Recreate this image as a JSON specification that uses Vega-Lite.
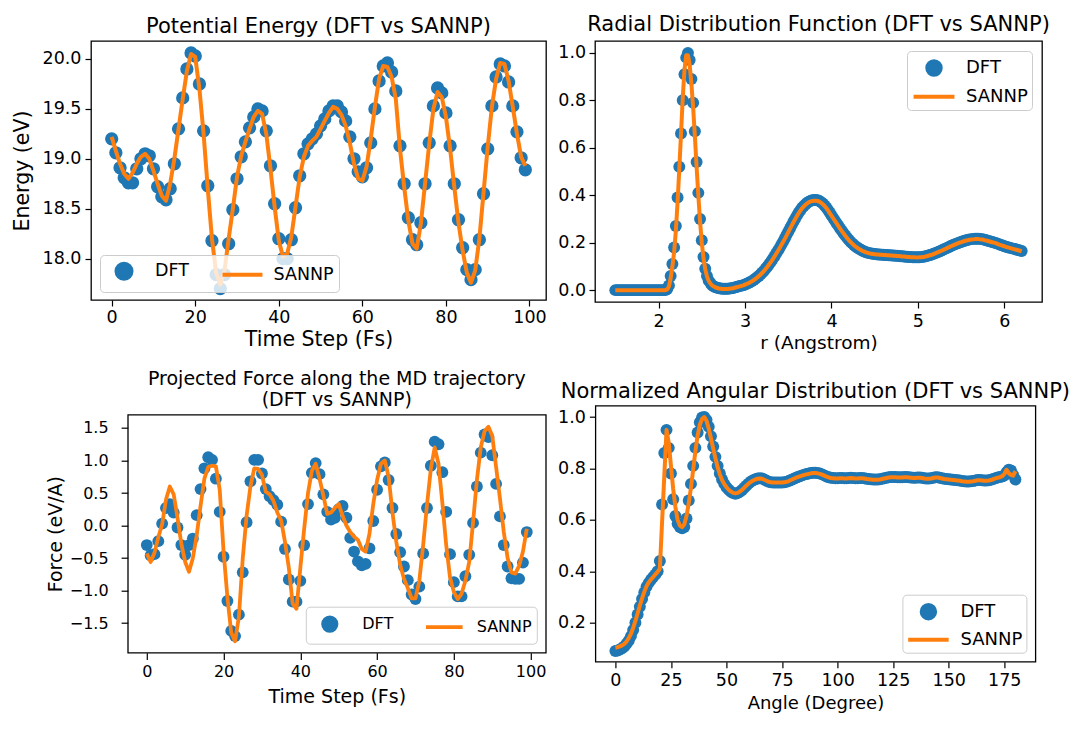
{
  "$schema": "https://vega.github.io/schema/vega-lite/v6.json",
  "background": "white",
  "padding": {"left": 11, "top": 13, "right": 5, "bottom": 5},
  "config": {
    "font": "DejaVu Sans",
    "view": {"stroke": "#000000", "strokeWidth": 1.3},
    "axis": {"domain": false, "grid": false, "ticks": true, "tickColor": "#000000", "tickWidth": 1.2, "tickSize": 6, "tickCount": 30, "labelColor": "#000000", "titleColor": "#000000", "titleFontWeight": "normal", "labelFlush": false, "labelOverlap": false},
    "title": {"fontWeight": "normal", "color": "#000000", "baseline": "bottom"},
    "legend": {"title": null, "labelColor": "#000000", "symbolStrokeWidth": 4, "symbolOpacity": 1, "fillColor": "rgba(255,255,255,0.8)", "strokeColor": "#cccccc", "cornerRadius": 4,
      "symbolStrokeColor": {"expr": "datum.value === 'DFT' ? 'transparent' : '#ff7f0e'"},
      "symbolFillColor": {"expr": "datum.value === 'DFT' ? '#1f77b4' : 'transparent'"}}
  },
  "spacing": 15.7,
  "resolve": {"scale": {"color": "independent"}, "legend": {"color": "independent"}},
  "vconcat": [
    {
      "spacing": 10,
      "resolve": {"scale": {"color": "independent"}, "legend": {"color": "independent"}},
      "hconcat": [
        {
          "width": 455, "height": 259,
          "title": {"text": "Potential Energy (DFT vs SANNP)", "fontSize": 21, "offset": 3.6},
          "data": {"name": "energy"},
          "layer": [
            {
              "mark": {"type": "circle", "size": 177, "opacity": 1, "clip": true},
              "encoding": {
                "x": {"field": "step", "type": "quantitative", "title": "Time Step (Fs)", "scale": {"domain": [-4.95, 103.95], "nice": false, "zero": false}, "axis": {"values": [0, 20, 40, 60, 80, 100], "tickCount": 30, "labelOverlap": false, "labelFontSize": 17.5, "titleFontSize": 20.5, "labelPadding": 2.2, "titlePadding": 4}},
                "y": {"field": "DFT", "type": "quantitative", "title": "Energy (eV)", "scale": {"domain": [17.586, 20.18], "nice": false, "zero": false}, "axis": {"values": [18, 18.5, 19, 19.5, 20], "tickCount": 30, "labelOverlap": false, "format": ".1f", "labelFontSize": 17.5, "titleFontSize": 20.5, "labelPadding": 4, "titlePadding": 9.7}},
                "color": {"datum": "DFT", "type": "nominal", "scale": {"domain": ["DFT", "SANNP"], "range": ["#1f77b4", "#ff7f0e"]},
                  "legend": {"orient": "bottom-left", "offset": 8.5, "columns": 2, "padding": 5, "symbolSize": 324, "symbolOffset": 8, "labelOffset": 20, "columnPadding": 25.5, "labelFontSize": 17.5,
                    "symbolType": {"expr": "datum.value === 'DFT' ? 'M-0.833,0A0.833,0.833,0,1,0,0.833,0A0.833,0.833,0,1,0,-0.833,0Z' : 'M-2.22,0H2.22'"}}}
              }
            },
            {
              "mark": {"type": "line", "strokeWidth": 4, "strokeJoin": "round", "clip": true},
              "encoding": {
                "x": {"field": "step", "type": "quantitative", "title": "Time Step (Fs)"},
                "y": {"field": "SANNP", "type": "quantitative", "title": "Energy (eV)"},
                "color": {"datum": "SANNP", "type": "nominal"}
              }
            }
          ]
        },
        {
          "width": 447, "height": 261,
          "title": {"text": "Radial Distribution Function (DFT vs SANNP)", "fontSize": 21, "offset": 6.3},
          "data": {"name": "rdf"},
          "layer": [
            {
              "mark": {"type": "circle", "size": 143, "opacity": 1, "clip": true},
              "encoding": {
                "x": {"field": "r", "type": "quantitative", "title": "r (Angstrom)", "scale": {"domain": [1.265, 6.435], "nice": false, "zero": false}, "axis": {"values": [2, 3, 4, 5, 6], "tickCount": 30, "labelOverlap": false, "format": "d", "labelFontSize": 17.5, "titleFontSize": 18.5, "labelPadding": 4.3, "titlePadding": 3.6}},
                "y": {"field": "DFT", "type": "quantitative", "title": null, "scale": {"domain": [-0.05, 1.05], "nice": false, "zero": false}, "axis": {"values": [0, 0.2, 0.4, 0.6, 0.8, 1.0], "tickCount": 30, "labelOverlap": false, "format": ".1f", "labelFontSize": 17.5, "labelPadding": 3.4}},
                "color": {"datum": "DFT", "type": "nominal", "scale": {"domain": ["DFT", "SANNP"], "range": ["#1f77b4", "#ff7f0e"]},
                  "legend": {"orient": "top-right", "offset": 10.4, "padding": 4, "symbolSize": 484, "symbolOffset": 10, "labelOffset": 19, "rowPadding": 0.7, "labelFontSize": 18,
                    "symbolType": {"expr": "datum.value === 'DFT' ? 'M-0.61,0A0.61,0.61,0,1,0,0.61,0A0.61,0.61,0,1,0,-0.61,0Z' : 'M-1.86,0H1.86'"}}}
              }
            },
            {
              "mark": {"type": "line", "strokeWidth": 4, "strokeJoin": "round", "clip": true},
              "encoding": {
                "x": {"field": "r", "type": "quantitative", "title": "r (Angstrom)"},
                "y": {"field": "SANNP", "type": "quantitative", "title": null},
                "color": {"datum": "SANNP", "type": "nominal"}
              }
            }
          ]
        }
      ]
    },
    {
      "spacing": 35.8,
      "bounds": "flush",
      "resolve": {"scale": {"color": "independent"}, "legend": {"color": "independent"}},
      "hconcat": [
        {
          "width": 1, "height": 1,
          "view": {"stroke": null},
          "data": {"values": []},
          "mark": "point",
          "encoding": {}
        },
        {
          "spacing": 49.6,
          "bounds": "flush",
          "center": true,
          "resolve": {"scale": {"color": "independent"}, "legend": {"color": "independent"}},
          "hconcat": [
            {
              "width": 418, "height": 238,
              "title": {"text": ["Projected Force along the MD trajectory", "(DFT vs SANNP)"], "fontSize": 19, "lineHeight": 21, "offset": 4.4},
              "data": {"name": "force"},
              "layer": [
                {
                  "mark": {"type": "circle", "size": 140, "opacity": 1, "clip": true},
                  "encoding": {
                    "x": {"field": "step", "type": "quantitative", "title": "Time Step (Fs)", "scale": {"domain": [-4.95, 103.95], "nice": false, "zero": false}, "axis": {"values": [0, 20, 40, 60, 80, 100], "tickCount": 30, "labelOverlap": false, "labelFontSize": 16, "titleFontSize": 19, "tickSize": 6.7, "labelPadding": 3.6, "titlePadding": 8.9}},
                    "y": {"field": "DFT", "type": "quantitative", "title": "Force (eV/A)", "scale": {"domain": [-1.955, 1.704], "nice": false, "zero": false}, "axis": {"values": [-1.5, -1, -0.5, 0, 0.5, 1, 1.5], "tickCount": 30, "labelOverlap": false, "format": ".1f", "labelFontSize": 16, "titleFontSize": 19, "tickSize": 6.7, "labelPadding": 13, "titlePadding": 3.9}},
                    "color": {"datum": "DFT", "type": "nominal", "scale": {"domain": ["DFT", "SANNP"], "range": ["#1f77b4", "#ff7f0e"]},
                      "legend": {"orient": "bottom-right", "offset": 8.6, "columns": 2, "padding": 5, "symbolSize": 376, "symbolOffset": 7, "labelOffset": 20.4, "columnPadding": 24.5, "labelFontSize": 16, "symbolStrokeWidth": 3.8,
                        "symbolType": {"expr": "datum.value === 'DFT' ? 'M-0.69,0A0.69,0.69,0,1,0,0.69,0A0.69,0.69,0,1,0,-0.69,0Z' : 'M-1.89,0H1.89'"}}}
                  }
                },
                {
                  "mark": {"type": "line", "strokeWidth": 3.8, "strokeJoin": "round", "clip": true},
                  "encoding": {
                    "x": {"field": "step", "type": "quantitative", "title": "Time Step (Fs)"},
                    "y": {"field": "SANNP", "type": "quantitative", "title": "Force (eV/A)"},
                    "color": {"datum": "SANNP", "type": "nominal"}
                  }
                }
              ]
            },
            {
              "width": 440, "height": 256,
              "title": {"text": "Normalized Angular Distribution (DFT vs SANNP)", "fontSize": 21, "offset": 3.3},
              "data": {"name": "angle"},
              "layer": [
                {
                  "mark": {"type": "circle", "size": 143, "opacity": 1, "clip": true},
                  "encoding": {
                    "x": {"field": "angle", "type": "quantitative", "title": "Angle (Degree)", "scale": {"domain": [-9, 189], "nice": false, "zero": false}, "axis": {"values": [0, 25, 50, 75, 100, 125, 150, 175], "tickCount": 30, "labelOverlap": false, "labelFontSize": 17.5, "titleFontSize": 18, "labelPadding": 3.3, "titlePadding": 5.9}},
                    "y": {"field": "DFT", "type": "quantitative", "title": null, "scale": {"domain": [0.0485, 1.044], "nice": false, "zero": false}, "axis": {"values": [0.2, 0.4, 0.6, 0.8, 1.0], "tickCount": 30, "labelOverlap": false, "format": ".1f", "labelFontSize": 17.5, "labelPadding": 4}},
                    "color": {"datum": "DFT", "type": "nominal", "scale": {"domain": ["DFT", "SANNP"], "range": ["#1f77b4", "#ff7f0e"]},
                      "legend": {"orient": "bottom-right", "offset": 9.3, "padding": 4, "symbolSize": 484, "symbolOffset": 9, "labelOffset": 19, "rowPadding": 0, "labelFontSize": 18,
                        "symbolType": {"expr": "datum.value === 'DFT' ? 'M-0.61,0A0.61,0.61,0,1,0,0.61,0A0.61,0.61,0,1,0,-0.61,0Z' : 'M-1.84,0H1.84'"}}}
                  }
                },
                {
                  "mark": {"type": "line", "strokeWidth": 4, "strokeJoin": "round", "clip": true},
                  "encoding": {
                    "x": {"field": "angle", "type": "quantitative", "title": "Angle (Degree)"},
                    "y": {"field": "SANNP", "type": "quantitative", "title": null},
                    "color": {"datum": "SANNP", "type": "nominal"}
                  }
                }
              ]
            }
          ]
        }
      ]
    }
  ],
  "datasets": {
    "energy": [
      {"step":0,"DFT":19.20,"SANNP":19.22},{"step":1,"DFT":19.06,"SANNP":19.08},{"step":2,"DFT":18.91,"SANNP":18.95},{"step":3,"DFT":18.81,"SANNP":18.85},{"step":4,"DFT":18.76,"SANNP":18.80},
      {"step":5,"DFT":18.76,"SANNP":18.86},{"step":6,"DFT":18.90,"SANNP":18.95},{"step":7,"DFT":19.00,"SANNP":19.02},{"step":8,"DFT":19.05,"SANNP":19.05},{"step":9,"DFT":19.03,"SANNP":19.00},
      {"step":10,"DFT":18.90,"SANNP":18.88},{"step":11,"DFT":18.72,"SANNP":18.75},{"step":12,"DFT":18.62,"SANNP":18.63},{"step":13,"DFT":18.59,"SANNP":18.58},{"step":14,"DFT":18.70,"SANNP":18.75},
      {"step":15,"DFT":18.95,"SANNP":19.00},{"step":16,"DFT":19.30,"SANNP":19.30},{"step":17,"DFT":19.61,"SANNP":19.60},{"step":18,"DFT":19.90,"SANNP":19.88},{"step":19,"DFT":20.06,"SANNP":20.05},
      {"step":20,"DFT":20.03,"SANNP":20.02},{"step":21,"DFT":19.75,"SANNP":19.70},{"step":22,"DFT":19.28,"SANNP":19.25},{"step":23,"DFT":18.73,"SANNP":18.70},{"step":24,"DFT":18.18,"SANNP":18.20},
      {"step":25,"DFT":17.84,"SANNP":17.86},{"step":26,"DFT":17.70,"SANNP":17.74},{"step":27,"DFT":17.84,"SANNP":17.88},{"step":28,"DFT":18.15,"SANNP":18.20},{"step":29,"DFT":18.49,"SANNP":18.50},
      {"step":30,"DFT":18.80,"SANNP":18.82},{"step":31,"DFT":19.02,"SANNP":19.03},{"step":32,"DFT":19.17,"SANNP":19.17},{"step":33,"DFT":19.31,"SANNP":19.30},{"step":34,"DFT":19.42,"SANNP":19.42},
      {"step":35,"DFT":19.50,"SANNP":19.48},{"step":36,"DFT":19.48,"SANNP":19.45},{"step":37,"DFT":19.28,"SANNP":19.25},{"step":38,"DFT":18.93,"SANNP":18.90},{"step":39,"DFT":18.55,"SANNP":18.52},
      {"step":40,"DFT":18.20,"SANNP":18.18},{"step":41,"DFT":18.00,"SANNP":18.02},{"step":42,"DFT":18.00,"SANNP":18.05},{"step":43,"DFT":18.19,"SANNP":18.22},{"step":44,"DFT":18.51,"SANNP":18.52},
      {"step":45,"DFT":18.83,"SANNP":18.82},{"step":46,"DFT":19.05,"SANNP":19.02},{"step":47,"DFT":19.15,"SANNP":19.13},{"step":48,"DFT":19.20,"SANNP":19.18},{"step":49,"DFT":19.25,"SANNP":19.22},
      {"step":50,"DFT":19.33,"SANNP":19.30},{"step":51,"DFT":19.40,"SANNP":19.38},{"step":52,"DFT":19.48,"SANNP":19.46},{"step":53,"DFT":19.53,"SANNP":19.52},{"step":54,"DFT":19.53,"SANNP":19.50},
      {"step":55,"DFT":19.47,"SANNP":19.44},{"step":56,"DFT":19.38,"SANNP":19.33},{"step":57,"DFT":19.22,"SANNP":19.16},{"step":58,"DFT":19.00,"SANNP":18.95},{"step":59,"DFT":18.87,"SANNP":18.80},
      {"step":60,"DFT":18.82,"SANNP":18.78},{"step":61,"DFT":18.91,"SANNP":18.92},{"step":62,"DFT":19.16,"SANNP":19.20},{"step":63,"DFT":19.50,"SANNP":19.52},{"step":64,"DFT":19.78,"SANNP":19.80},
      {"step":65,"DFT":19.93,"SANNP":19.93},{"step":66,"DFT":19.96,"SANNP":19.92},{"step":67,"DFT":19.87,"SANNP":19.82},{"step":68,"DFT":19.68,"SANNP":19.60},{"step":69,"DFT":19.13,"SANNP":19.10},
      {"step":70,"DFT":18.75,"SANNP":18.72},{"step":71,"DFT":18.41,"SANNP":18.38},{"step":72,"DFT":18.19,"SANNP":18.15},{"step":73,"DFT":18.14,"SANNP":18.10},{"step":74,"DFT":18.36,"SANNP":18.35},
      {"step":75,"DFT":18.75,"SANNP":18.75},{"step":76,"DFT":19.16,"SANNP":19.15},{"step":77,"DFT":19.53,"SANNP":19.50},{"step":78,"DFT":19.71,"SANNP":19.67},{"step":79,"DFT":19.66,"SANNP":19.62},
      {"step":80,"DFT":19.46,"SANNP":19.42},{"step":81,"DFT":19.13,"SANNP":19.10},{"step":82,"DFT":18.75,"SANNP":18.72},{"step":83,"DFT":18.39,"SANNP":18.36},{"step":84,"DFT":18.11,"SANNP":18.08},
      {"step":85,"DFT":17.89,"SANNP":17.86},{"step":86,"DFT":17.79,"SANNP":17.76},{"step":87,"DFT":17.89,"SANNP":17.88},{"step":88,"DFT":18.19,"SANNP":18.20},{"step":89,"DFT":18.65,"SANNP":18.66},
      {"step":90,"DFT":19.10,"SANNP":19.12},{"step":91,"DFT":19.53,"SANNP":19.52},{"step":92,"DFT":19.82,"SANNP":19.80},{"step":93,"DFT":19.95,"SANNP":19.96},{"step":94,"DFT":19.93,"SANNP":19.95},
      {"step":95,"DFT":19.77,"SANNP":19.78},{"step":96,"DFT":19.53,"SANNP":19.52},{"step":97,"DFT":19.27,"SANNP":19.25},{"step":98,"DFT":19.01,"SANNP":19.02},{"step":99,"DFT":18.89,"SANNP":18.93}
    ],
    "force": [
      {"step":0,"DFT":-0.30,"SANNP":-0.43},{"step":1,"DFT":-0.46,"SANNP":-0.56},{"step":2,"DFT":-0.44,"SANNP":-0.42},{"step":3,"DFT":-0.24,"SANNP":-0.18},{"step":4,"DFT":0.03,"SANNP":0.02},
      {"step":5,"DFT":0.27,"SANNP":0.40},{"step":6,"DFT":0.33,"SANNP":0.60},{"step":7,"DFT":0.20,"SANNP":0.48},{"step":8,"DFT":-0.03,"SANNP":0.12},{"step":9,"DFT":-0.30,"SANNP":-0.28},
      {"step":10,"DFT":-0.45,"SANNP":-0.56},{"step":11,"DFT":-0.30,"SANNP":-0.71},{"step":12,"DFT":-0.20,"SANNP":-0.50},{"step":13,"DFT":0.16,"SANNP":-0.15},{"step":14,"DFT":0.56,"SANNP":0.30},
      {"step":15,"DFT":0.88,"SANNP":0.72},{"step":16,"DFT":1.05,"SANNP":0.90},{"step":17,"DFT":1.01,"SANNP":0.92},{"step":18,"DFT":0.72,"SANNP":0.91},{"step":19,"DFT":0.21,"SANNP":0.55},
      {"step":20,"DFT":-0.48,"SANNP":-0.40},{"step":21,"DFT":-1.16,"SANNP":-1.10},{"step":22,"DFT":-1.62,"SANNP":-1.65},{"step":23,"DFT":-1.70,"SANNP":-1.78},{"step":24,"DFT":-1.37,"SANNP":-1.40},
      {"step":25,"DFT":-0.72,"SANNP":-0.50},{"step":26,"DFT":0.05,"SANNP":0.15},{"step":27,"DFT":0.68,"SANNP":0.60},{"step":28,"DFT":1.01,"SANNP":0.88},{"step":29,"DFT":1.01,"SANNP":0.87},
      {"step":30,"DFT":0.80,"SANNP":0.78},{"step":31,"DFT":0.56,"SANNP":0.52},{"step":32,"DFT":0.45,"SANNP":0.48},{"step":33,"DFT":0.39,"SANNP":0.38},{"step":34,"DFT":0.32,"SANNP":0.20},
      {"step":35,"DFT":0.06,"SANNP":0.08},{"step":36,"DFT":-0.36,"SANNP":-0.25},{"step":37,"DFT":-0.83,"SANNP":-0.65},{"step":38,"DFT":-1.17,"SANNP":-1.20},{"step":39,"DFT":-1.17,"SANNP":-1.28},
      {"step":40,"DFT":-0.85,"SANNP":-0.65},{"step":41,"DFT":-0.30,"SANNP":-0.05},{"step":42,"DFT":0.33,"SANNP":0.50},{"step":43,"DFT":0.81,"SANNP":0.84},{"step":44,"DFT":0.96,"SANNP":0.95},
      {"step":45,"DFT":0.79,"SANNP":0.72},{"step":46,"DFT":0.48,"SANNP":0.46},{"step":47,"DFT":0.21,"SANNP":0.18},{"step":48,"DFT":0.09,"SANNP":0.20},{"step":49,"DFT":0.12,"SANNP":0.27},
      {"step":50,"DFT":0.25,"SANNP":0.33},{"step":51,"DFT":0.30,"SANNP":0.15},{"step":52,"DFT":0.12,"SANNP":0.00},{"step":53,"DFT":-0.19,"SANNP":-0.10},{"step":54,"DFT":-0.40,"SANNP":-0.17},
      {"step":55,"DFT":-0.55,"SANNP":-0.22},{"step":56,"DFT":-0.61,"SANNP":-0.36},{"step":57,"DFT":-0.59,"SANNP":-0.40},{"step":58,"DFT":-0.35,"SANNP":-0.13},{"step":59,"DFT":0.07,"SANNP":0.33},
      {"step":60,"DFT":0.55,"SANNP":0.70},{"step":61,"DFT":0.91,"SANNP":0.95},{"step":62,"DFT":0.97,"SANNP":1.00},{"step":63,"DFT":0.70,"SANNP":0.75},{"step":64,"DFT":0.27,"SANNP":0.20},
      {"step":65,"DFT":-0.13,"SANNP":-0.25},{"step":66,"DFT":-0.41,"SANNP":-0.60},{"step":67,"DFT":-0.63,"SANNP":-0.82},{"step":68,"DFT":-0.84,"SANNP":-0.96},{"step":69,"DFT":-1.06,"SANNP":-1.12},
      {"step":70,"DFT":-1.13,"SANNP":-1.12},{"step":71,"DFT":-0.94,"SANNP":-0.85},{"step":72,"DFT":-0.43,"SANNP":-0.30},{"step":73,"DFT":0.27,"SANNP":0.32},{"step":74,"DFT":0.92,"SANNP":0.87},
      {"step":75,"DFT":1.29,"SANNP":1.20},{"step":76,"DFT":1.25,"SANNP":0.95},{"step":77,"DFT":0.82,"SANNP":0.35},{"step":78,"DFT":0.21,"SANNP":-0.30},{"step":79,"DFT":-0.44,"SANNP":-0.80},
      {"step":80,"DFT":-0.87,"SANNP":-1.02},{"step":81,"DFT":-1.09,"SANNP":-1.13},{"step":82,"DFT":-1.09,"SANNP":-1.05},{"step":83,"DFT":-0.78,"SANNP":-0.85},{"step":84,"DFT":-0.45,"SANNP":-0.56},
      {"step":85,"DFT":0.04,"SANNP":0.05},{"step":86,"DFT":0.60,"SANNP":0.70},{"step":87,"DFT":1.12,"SANNP":1.20},{"step":88,"DFT":1.40,"SANNP":1.45},{"step":89,"DFT":1.36,"SANNP":1.52},
      {"step":90,"DFT":1.08,"SANNP":1.38},{"step":91,"DFT":0.64,"SANNP":0.90},{"step":92,"DFT":0.14,"SANNP":0.42},{"step":93,"DFT":-0.30,"SANNP":-0.10},{"step":94,"DFT":-0.63,"SANNP":-0.50},
      {"step":95,"DFT":-0.81,"SANNP":-0.72},{"step":96,"DFT":-0.82,"SANNP":-0.74},{"step":97,"DFT":-0.82,"SANNP":-0.62},{"step":98,"DFT":-0.57,"SANNP":-0.40},{"step":99,"DFT":-0.10,"SANNP":-0.05}
    ],
    "rdf": [
      {"r":1.50,"DFT":0,"SANNP":0},{"r":1.52,"DFT":0,"SANNP":0},{"r":1.54,"DFT":0,"SANNP":0},{"r":1.56,"DFT":0,"SANNP":0},{"r":1.58,"DFT":0,"SANNP":0},
      {"r":1.60,"DFT":0,"SANNP":0},{"r":1.62,"DFT":0,"SANNP":0},{"r":1.64,"DFT":0,"SANNP":0},{"r":1.66,"DFT":0,"SANNP":0},{"r":1.68,"DFT":0,"SANNP":0},
      {"r":1.70,"DFT":0,"SANNP":0},{"r":1.72,"DFT":0,"SANNP":0},{"r":1.74,"DFT":0,"SANNP":0},{"r":1.76,"DFT":0,"SANNP":0},{"r":1.78,"DFT":0,"SANNP":0},
      {"r":1.80,"DFT":0,"SANNP":0},{"r":1.82,"DFT":0,"SANNP":0},{"r":1.84,"DFT":0,"SANNP":0},{"r":1.86,"DFT":0,"SANNP":0},{"r":1.88,"DFT":0,"SANNP":0},
      {"r":1.90,"DFT":0,"SANNP":0},{"r":1.92,"DFT":0,"SANNP":0},{"r":1.94,"DFT":0,"SANNP":0},{"r":1.96,"DFT":0,"SANNP":0},{"r":1.98,"DFT":0,"SANNP":0},
      {"r":2.00,"DFT":0,"SANNP":0},{"r":2.02,"DFT":0,"SANNP":0},{"r":2.04,"DFT":0,"SANNP":0},{"r":2.06,"DFT":0,"SANNP":0},{"r":2.08,"DFT":0.001,"SANNP":0},
      {"r":2.10,"DFT":0.005,"SANNP":0.003},{"r":2.12,"DFT":0.02,"SANNP":0.015},{"r":2.14,"DFT":0.06,"SANNP":0.05},{"r":2.16,"DFT":0.11,"SANNP":0.10},{"r":2.18,"DFT":0.18,"SANNP":0.16},
      {"r":2.20,"DFT":0.27,"SANNP":0.25},{"r":2.22,"DFT":0.39,"SANNP":0.37},{"r":2.24,"DFT":0.52,"SANNP":0.51},{"r":2.26,"DFT":0.66,"SANNP":0.66},{"r":2.28,"DFT":0.80,"SANNP":0.81},
      {"r":2.30,"DFT":0.91,"SANNP":0.93},{"r":2.32,"DFT":0.98,"SANNP":0.99},{"r":2.34,"DFT":1.00,"SANNP":0.99},{"r":2.36,"DFT":0.97,"SANNP":0.95},{"r":2.38,"DFT":0.89,"SANNP":0.87},
      {"r":2.40,"DFT":0.79,"SANNP":0.77},{"r":2.42,"DFT":0.67,"SANNP":0.65},{"r":2.44,"DFT":0.54,"SANNP":0.52},{"r":2.46,"DFT":0.41,"SANNP":0.40},{"r":2.48,"DFT":0.30,"SANNP":0.29},
      {"r":2.50,"DFT":0.21,"SANNP":0.20},{"r":2.52,"DFT":0.14,"SANNP":0.135},{"r":2.54,"DFT":0.09,"SANNP":0.088},{"r":2.56,"DFT":0.06,"SANNP":0.058},{"r":2.58,"DFT":0.04,"SANNP":0.039},
      {"r":2.60,"DFT":0.03,"SANNP":0.028},{"r":2.62,"DFT":0.02,"SANNP":0.02},{"r":2.64,"DFT":0.015,"SANNP":0.015},{"r":2.66,"DFT":0.012,"SANNP":0.011},{"r":2.68,"DFT":0.01,"SANNP":0.009},
      {"r":2.70,"DFT":0.008,"SANNP":0.007},{"r":2.72,"DFT":0.007,"SANNP":0.006},{"r":2.74,"DFT":0.006,"SANNP":0.005},{"r":2.76,"DFT":0.006,"SANNP":0.005},{"r":2.78,"DFT":0.006,"SANNP":0.005},
      {"r":2.80,"DFT":0.006,"SANNP":0.005},{"r":2.82,"DFT":0.007,"SANNP":0.006},{"r":2.84,"DFT":0.008,"SANNP":0.007},{"r":2.86,"DFT":0.009,"SANNP":0.008},{"r":2.88,"DFT":0.011,"SANNP":0.010},
      {"r":2.90,"DFT":0.013,"SANNP":0.012},{"r":2.92,"DFT":0.015,"SANNP":0.014},{"r":2.94,"DFT":0.017,"SANNP":0.016},{"r":2.96,"DFT":0.019,"SANNP":0.018},{"r":2.98,"DFT":0.021,"SANNP":0.020},
      {"r":3.00,"DFT":0.024,"SANNP":0.023},{"r":3.02,"DFT":0.027,"SANNP":0.026},{"r":3.04,"DFT":0.030,"SANNP":0.029},{"r":3.06,"DFT":0.034,"SANNP":0.033},{"r":3.08,"DFT":0.038,"SANNP":0.037},
      {"r":3.10,"DFT":0.043,"SANNP":0.042},{"r":3.12,"DFT":0.048,"SANNP":0.047},{"r":3.14,"DFT":0.054,"SANNP":0.053},{"r":3.16,"DFT":0.060,"SANNP":0.059},{"r":3.18,"DFT":0.067,"SANNP":0.066},
      {"r":3.20,"DFT":0.074,"SANNP":0.073},{"r":3.22,"DFT":0.082,"SANNP":0.081},{"r":3.24,"DFT":0.091,"SANNP":0.090},{"r":3.26,"DFT":0.100,"SANNP":0.099},{"r":3.28,"DFT":0.110,"SANNP":0.109},
      {"r":3.30,"DFT":0.120,"SANNP":0.119},{"r":3.32,"DFT":0.131,"SANNP":0.130},{"r":3.34,"DFT":0.142,"SANNP":0.141},{"r":3.36,"DFT":0.154,"SANNP":0.153},{"r":3.38,"DFT":0.166,"SANNP":0.165},
      {"r":3.40,"DFT":0.178,"SANNP":0.177},{"r":3.42,"DFT":0.191,"SANNP":0.190},{"r":3.44,"DFT":0.204,"SANNP":0.203},{"r":3.46,"DFT":0.218,"SANNP":0.216},{"r":3.48,"DFT":0.232,"SANNP":0.230},
      {"r":3.50,"DFT":0.246,"SANNP":0.244},{"r":3.52,"DFT":0.260,"SANNP":0.258},{"r":3.54,"DFT":0.274,"SANNP":0.272},{"r":3.56,"DFT":0.288,"SANNP":0.286},{"r":3.58,"DFT":0.301,"SANNP":0.299},
      {"r":3.60,"DFT":0.314,"SANNP":0.312},{"r":3.62,"DFT":0.326,"SANNP":0.324},{"r":3.64,"DFT":0.337,"SANNP":0.335},{"r":3.66,"DFT":0.347,"SANNP":0.345},{"r":3.68,"DFT":0.355,"SANNP":0.353},
      {"r":3.70,"DFT":0.362,"SANNP":0.360},{"r":3.72,"DFT":0.368,"SANNP":0.366},{"r":3.74,"DFT":0.373,"SANNP":0.371},{"r":3.76,"DFT":0.377,"SANNP":0.374},{"r":3.78,"DFT":0.379,"SANNP":0.376},
      {"r":3.80,"DFT":0.380,"SANNP":0.377},{"r":3.82,"DFT":0.380,"SANNP":0.377},{"r":3.84,"DFT":0.379,"SANNP":0.376},{"r":3.86,"DFT":0.376,"SANNP":0.373},{"r":3.88,"DFT":0.371,"SANNP":0.368},
      {"r":3.90,"DFT":0.365,"SANNP":0.362},{"r":3.92,"DFT":0.357,"SANNP":0.355},{"r":3.94,"DFT":0.348,"SANNP":0.346},{"r":3.96,"DFT":0.338,"SANNP":0.336},{"r":3.98,"DFT":0.327,"SANNP":0.325},
      {"r":4.00,"DFT":0.315,"SANNP":0.314},{"r":4.02,"DFT":0.304,"SANNP":0.303},{"r":4.04,"DFT":0.293,"SANNP":0.292},{"r":4.06,"DFT":0.282,"SANNP":0.281},{"r":4.08,"DFT":0.271,"SANNP":0.270},
      {"r":4.10,"DFT":0.260,"SANNP":0.259},{"r":4.12,"DFT":0.250,"SANNP":0.249},{"r":4.14,"DFT":0.240,"SANNP":0.239},{"r":4.16,"DFT":0.230,"SANNP":0.229},{"r":4.18,"DFT":0.221,"SANNP":0.220},
      {"r":4.20,"DFT":0.212,"SANNP":0.211},{"r":4.22,"DFT":0.204,"SANNP":0.203},{"r":4.24,"DFT":0.197,"SANNP":0.196},{"r":4.26,"DFT":0.190,"SANNP":0.189},{"r":4.28,"DFT":0.184,"SANNP":0.183},
      {"r":4.30,"DFT":0.179,"SANNP":0.178},{"r":4.32,"DFT":0.174,"SANNP":0.173},{"r":4.34,"DFT":0.170,"SANNP":0.169},{"r":4.36,"DFT":0.166,"SANNP":0.165},{"r":4.38,"DFT":0.163,"SANNP":0.162},
      {"r":4.40,"DFT":0.160,"SANNP":0.159},{"r":4.42,"DFT":0.158,"SANNP":0.157},{"r":4.44,"DFT":0.156,"SANNP":0.155},{"r":4.46,"DFT":0.154,"SANNP":0.153},{"r":4.48,"DFT":0.153,"SANNP":0.152},
      {"r":4.50,"DFT":0.152,"SANNP":0.151},{"r":4.52,"DFT":0.151,"SANNP":0.150},{"r":4.54,"DFT":0.150,"SANNP":0.150},{"r":4.56,"DFT":0.150,"SANNP":0.149},{"r":4.58,"DFT":0.149,"SANNP":0.149},
      {"r":4.60,"DFT":0.149,"SANNP":0.148},{"r":4.62,"DFT":0.148,"SANNP":0.148},{"r":4.64,"DFT":0.148,"SANNP":0.147},{"r":4.66,"DFT":0.147,"SANNP":0.147},{"r":4.68,"DFT":0.147,"SANNP":0.146},
      {"r":4.70,"DFT":0.146,"SANNP":0.146},{"r":4.72,"DFT":0.146,"SANNP":0.145},{"r":4.74,"DFT":0.145,"SANNP":0.145},{"r":4.76,"DFT":0.145,"SANNP":0.144},{"r":4.78,"DFT":0.144,"SANNP":0.144},
      {"r":4.80,"DFT":0.143,"SANNP":0.143},{"r":4.82,"DFT":0.143,"SANNP":0.142},{"r":4.84,"DFT":0.142,"SANNP":0.142},{"r":4.86,"DFT":0.141,"SANNP":0.141},{"r":4.88,"DFT":0.141,"SANNP":0.140},
      {"r":4.90,"DFT":0.140,"SANNP":0.140},{"r":4.92,"DFT":0.140,"SANNP":0.139},{"r":4.94,"DFT":0.139,"SANNP":0.139},{"r":4.96,"DFT":0.139,"SANNP":0.139},{"r":4.98,"DFT":0.139,"SANNP":0.138},
      {"r":5.00,"DFT":0.139,"SANNP":0.138},{"r":5.02,"DFT":0.139,"SANNP":0.139},{"r":5.04,"DFT":0.140,"SANNP":0.139},{"r":5.06,"DFT":0.141,"SANNP":0.140},{"r":5.08,"DFT":0.142,"SANNP":0.141},
      {"r":5.10,"DFT":0.144,"SANNP":0.143},{"r":5.12,"DFT":0.146,"SANNP":0.145},{"r":5.14,"DFT":0.148,"SANNP":0.147},{"r":5.16,"DFT":0.150,"SANNP":0.149},{"r":5.18,"DFT":0.153,"SANNP":0.152},
      {"r":5.20,"DFT":0.156,"SANNP":0.155},{"r":5.22,"DFT":0.159,"SANNP":0.158},{"r":5.24,"DFT":0.162,"SANNP":0.161},{"r":5.26,"DFT":0.165,"SANNP":0.164},{"r":5.28,"DFT":0.168,"SANNP":0.167},
      {"r":5.30,"DFT":0.172,"SANNP":0.171},{"r":5.32,"DFT":0.175,"SANNP":0.174},{"r":5.34,"DFT":0.179,"SANNP":0.178},{"r":5.36,"DFT":0.182,"SANNP":0.181},{"r":5.38,"DFT":0.186,"SANNP":0.185},
      {"r":5.40,"DFT":0.189,"SANNP":0.188},{"r":5.42,"DFT":0.192,"SANNP":0.191},{"r":5.44,"DFT":0.195,"SANNP":0.194},{"r":5.46,"DFT":0.198,"SANNP":0.197},{"r":5.48,"DFT":0.201,"SANNP":0.200},
      {"r":5.50,"DFT":0.203,"SANNP":0.202},{"r":5.52,"DFT":0.206,"SANNP":0.205},{"r":5.54,"DFT":0.208,"SANNP":0.207},{"r":5.56,"DFT":0.210,"SANNP":0.209},{"r":5.58,"DFT":0.212,"SANNP":0.211},
      {"r":5.60,"DFT":0.214,"SANNP":0.212},{"r":5.62,"DFT":0.215,"SANNP":0.213},{"r":5.64,"DFT":0.216,"SANNP":0.214},{"r":5.66,"DFT":0.217,"SANNP":0.215},{"r":5.68,"DFT":0.217,"SANNP":0.215},
      {"r":5.70,"DFT":0.217,"SANNP":0.215},{"r":5.72,"DFT":0.216,"SANNP":0.214},{"r":5.74,"DFT":0.215,"SANNP":0.213},{"r":5.76,"DFT":0.213,"SANNP":0.212},{"r":5.78,"DFT":0.211,"SANNP":0.210},
      {"r":5.80,"DFT":0.209,"SANNP":0.208},{"r":5.82,"DFT":0.207,"SANNP":0.206},{"r":5.84,"DFT":0.205,"SANNP":0.204},{"r":5.86,"DFT":0.203,"SANNP":0.202},{"r":5.88,"DFT":0.201,"SANNP":0.200},
      {"r":5.90,"DFT":0.199,"SANNP":0.198},{"r":5.92,"DFT":0.196,"SANNP":0.195},{"r":5.94,"DFT":0.193,"SANNP":0.192},{"r":5.96,"DFT":0.190,"SANNP":0.190},{"r":5.98,"DFT":0.188,"SANNP":0.187},
      {"r":6.00,"DFT":0.185,"SANNP":0.185},{"r":6.02,"DFT":0.183,"SANNP":0.182},{"r":6.04,"DFT":0.181,"SANNP":0.180},{"r":6.06,"DFT":0.179,"SANNP":0.178},{"r":6.08,"DFT":0.177,"SANNP":0.176},
      {"r":6.10,"DFT":0.175,"SANNP":0.174},{"r":6.12,"DFT":0.173,"SANNP":0.172},{"r":6.14,"DFT":0.171,"SANNP":0.170},{"r":6.16,"DFT":0.169,"SANNP":0.168},{"r":6.18,"DFT":0.167,"SANNP":0.166},
      {"r":6.20,"DFT":0.165,"SANNP":0.164}
    ],
    "angle": [
      {"angle":0,"DFT":0.090,"SANNP":0.103},{"angle":1,"DFT":0.092,"SANNP":0.105},{"angle":2,"DFT":0.096,"SANNP":0.108},{"angle":3,"DFT":0.101,"SANNP":0.112},{"angle":4,"DFT":0.108,"SANNP":0.118},
      {"angle":5,"DFT":0.118,"SANNP":0.127},{"angle":6,"DFT":0.130,"SANNP":0.140},{"angle":7,"DFT":0.148,"SANNP":0.157},{"angle":8,"DFT":0.172,"SANNP":0.180},{"angle":9,"DFT":0.200,"SANNP":0.207},
      {"angle":10,"DFT":0.232,"SANNP":0.237},{"angle":11,"DFT":0.262,"SANNP":0.266},{"angle":12,"DFT":0.292,"SANNP":0.295},{"angle":13,"DFT":0.318,"SANNP":0.320},{"angle":14,"DFT":0.340,"SANNP":0.342},
      {"angle":15,"DFT":0.355,"SANNP":0.357},{"angle":16,"DFT":0.367,"SANNP":0.368},{"angle":17,"DFT":0.378,"SANNP":0.378},{"angle":18,"DFT":0.388,"SANNP":0.388},{"angle":19,"DFT":0.400,"SANNP":0.398},
      {"angle":20,"DFT":0.440,"SANNP":0.410},{"angle":21,"DFT":0.660,"SANNP":0.590},{"angle":22,"DFT":0.860,"SANNP":0.770},{"angle":23,"DFT":0.950,"SANNP":0.950},{"angle":24,"DFT":0.880,"SANNP":0.900},
      {"angle":25,"DFT":0.780,"SANNP":0.810},{"angle":26,"DFT":0.680,"SANNP":0.720},{"angle":27,"DFT":0.615,"SANNP":0.650},{"angle":28,"DFT":0.585,"SANNP":0.600},{"angle":29,"DFT":0.572,"SANNP":0.578},
      {"angle":30,"DFT":0.567,"SANNP":0.572},{"angle":31,"DFT":0.572,"SANNP":0.582},{"angle":32,"DFT":0.605,"SANNP":0.615},{"angle":33,"DFT":0.675,"SANNP":0.665},{"angle":34,"DFT":0.740,"SANNP":0.725},
      {"angle":35,"DFT":0.810,"SANNP":0.795},{"angle":36,"DFT":0.880,"SANNP":0.868},{"angle":37,"DFT":0.940,"SANNP":0.928},{"angle":38,"DFT":0.980,"SANNP":0.970},{"angle":39,"DFT":0.998,"SANNP":0.992},
      {"angle":40,"DFT":1.000,"SANNP":1.000},{"angle":41,"DFT":0.988,"SANNP":0.985},{"angle":42,"DFT":0.962,"SANNP":0.955},{"angle":43,"DFT":0.925,"SANNP":0.918},{"angle":44,"DFT":0.885,"SANNP":0.878},
      {"angle":45,"DFT":0.845,"SANNP":0.840},{"angle":46,"DFT":0.810,"SANNP":0.805},{"angle":47,"DFT":0.780,"SANNP":0.777},{"angle":48,"DFT":0.757,"SANNP":0.755},{"angle":49,"DFT":0.740,"SANNP":0.739},
      {"angle":50,"DFT":0.727,"SANNP":0.727},{"angle":51,"DFT":0.717,"SANNP":0.717},{"angle":52,"DFT":0.709,"SANNP":0.710},{"angle":53,"DFT":0.704,"SANNP":0.705},{"angle":54,"DFT":0.702,"SANNP":0.703},
      {"angle":55,"DFT":0.704,"SANNP":0.705},{"angle":56,"DFT":0.709,"SANNP":0.710},{"angle":57,"DFT":0.716,"SANNP":0.717},{"angle":58,"DFT":0.725,"SANNP":0.725},{"angle":59,"DFT":0.734,"SANNP":0.734},
      {"angle":60,"DFT":0.742,"SANNP":0.742},{"angle":61,"DFT":0.749,"SANNP":0.748},{"angle":62,"DFT":0.754,"SANNP":0.753},{"angle":63,"DFT":0.758,"SANNP":0.757},{"angle":64,"DFT":0.761,"SANNP":0.760},
      {"angle":65,"DFT":0.762,"SANNP":0.761},{"angle":66,"DFT":0.761,"SANNP":0.760},{"angle":67,"DFT":0.757,"SANNP":0.756},{"angle":68,"DFT":0.752,"SANNP":0.752},{"angle":69,"DFT":0.748,"SANNP":0.748},
      {"angle":70,"DFT":0.746,"SANNP":0.746},{"angle":71,"DFT":0.745,"SANNP":0.745},{"angle":72,"DFT":0.745,"SANNP":0.745},{"angle":73,"DFT":0.745,"SANNP":0.745},{"angle":74,"DFT":0.745,"SANNP":0.745},
      {"angle":75,"DFT":0.745,"SANNP":0.745},{"angle":76,"DFT":0.746,"SANNP":0.746},{"angle":77,"DFT":0.748,"SANNP":0.748},{"angle":78,"DFT":0.751,"SANNP":0.751},{"angle":79,"DFT":0.755,"SANNP":0.755},
      {"angle":80,"DFT":0.759,"SANNP":0.759},{"angle":81,"DFT":0.763,"SANNP":0.763},{"angle":82,"DFT":0.767,"SANNP":0.766},{"angle":83,"DFT":0.770,"SANNP":0.769},{"angle":84,"DFT":0.773,"SANNP":0.772},
      {"angle":85,"DFT":0.776,"SANNP":0.775},{"angle":86,"DFT":0.778,"SANNP":0.777},{"angle":87,"DFT":0.780,"SANNP":0.779},{"angle":88,"DFT":0.782,"SANNP":0.781},{"angle":89,"DFT":0.783,"SANNP":0.782},
      {"angle":90,"DFT":0.783,"SANNP":0.782},{"angle":91,"DFT":0.782,"SANNP":0.781},{"angle":92,"DFT":0.780,"SANNP":0.779},{"angle":93,"DFT":0.777,"SANNP":0.776},{"angle":94,"DFT":0.773,"SANNP":0.772},
      {"angle":95,"DFT":0.769,"SANNP":0.768},{"angle":96,"DFT":0.766,"SANNP":0.765},{"angle":97,"DFT":0.764,"SANNP":0.763},{"angle":98,"DFT":0.763,"SANNP":0.762},{"angle":99,"DFT":0.762,"SANNP":0.761},
      {"angle":100,"DFT":0.762,"SANNP":0.761},{"angle":101,"DFT":0.763,"SANNP":0.762},{"angle":102,"DFT":0.763,"SANNP":0.762},{"angle":103,"DFT":0.762,"SANNP":0.761},{"angle":104,"DFT":0.762,"SANNP":0.761},
      {"angle":105,"DFT":0.763,"SANNP":0.762},{"angle":106,"DFT":0.764,"SANNP":0.763},{"angle":107,"DFT":0.763,"SANNP":0.762},{"angle":108,"DFT":0.762,"SANNP":0.761},{"angle":109,"DFT":0.762,"SANNP":0.761},
      {"angle":110,"DFT":0.763,"SANNP":0.762},{"angle":111,"DFT":0.763,"SANNP":0.762},{"angle":112,"DFT":0.762,"SANNP":0.761},{"angle":113,"DFT":0.760,"SANNP":0.759},{"angle":114,"DFT":0.759,"SANNP":0.758},
      {"angle":115,"DFT":0.758,"SANNP":0.757},{"angle":116,"DFT":0.757,"SANNP":0.756},{"angle":117,"DFT":0.757,"SANNP":0.756},{"angle":118,"DFT":0.757,"SANNP":0.756},{"angle":119,"DFT":0.758,"SANNP":0.757},
      {"angle":120,"DFT":0.760,"SANNP":0.759},{"angle":121,"DFT":0.762,"SANNP":0.761},{"angle":122,"DFT":0.764,"SANNP":0.763},{"angle":123,"DFT":0.766,"SANNP":0.765},{"angle":124,"DFT":0.767,"SANNP":0.766},
      {"angle":125,"DFT":0.767,"SANNP":0.766},{"angle":126,"DFT":0.767,"SANNP":0.766},{"angle":127,"DFT":0.766,"SANNP":0.765},{"angle":128,"DFT":0.766,"SANNP":0.765},{"angle":129,"DFT":0.766,"SANNP":0.765},
      {"angle":130,"DFT":0.767,"SANNP":0.766},{"angle":131,"DFT":0.767,"SANNP":0.766},{"angle":132,"DFT":0.766,"SANNP":0.765},{"angle":133,"DFT":0.765,"SANNP":0.764},{"angle":134,"DFT":0.764,"SANNP":0.763},
      {"angle":135,"DFT":0.764,"SANNP":0.763},{"angle":136,"DFT":0.765,"SANNP":0.764},{"angle":137,"DFT":0.765,"SANNP":0.764},{"angle":138,"DFT":0.764,"SANNP":0.763},{"angle":139,"DFT":0.762,"SANNP":0.761},
      {"angle":140,"DFT":0.761,"SANNP":0.760},{"angle":141,"DFT":0.761,"SANNP":0.760},{"angle":142,"DFT":0.762,"SANNP":0.761},{"angle":143,"DFT":0.764,"SANNP":0.763},{"angle":144,"DFT":0.766,"SANNP":0.765},
      {"angle":145,"DFT":0.766,"SANNP":0.765},{"angle":146,"DFT":0.764,"SANNP":0.763},{"angle":147,"DFT":0.762,"SANNP":0.761},{"angle":148,"DFT":0.760,"SANNP":0.759},{"angle":149,"DFT":0.759,"SANNP":0.758},
      {"angle":150,"DFT":0.758,"SANNP":0.757},{"angle":151,"DFT":0.757,"SANNP":0.756},{"angle":152,"DFT":0.756,"SANNP":0.755},{"angle":153,"DFT":0.755,"SANNP":0.754},{"angle":154,"DFT":0.754,"SANNP":0.753},
      {"angle":155,"DFT":0.753,"SANNP":0.752},{"angle":156,"DFT":0.751,"SANNP":0.750},{"angle":157,"DFT":0.750,"SANNP":0.749},{"angle":158,"DFT":0.749,"SANNP":0.748},{"angle":159,"DFT":0.749,"SANNP":0.748},
      {"angle":160,"DFT":0.750,"SANNP":0.749},{"angle":161,"DFT":0.751,"SANNP":0.750},{"angle":162,"DFT":0.753,"SANNP":0.752},{"angle":163,"DFT":0.755,"SANNP":0.754},{"angle":164,"DFT":0.755,"SANNP":0.754},
      {"angle":165,"DFT":0.754,"SANNP":0.753},{"angle":166,"DFT":0.753,"SANNP":0.752},{"angle":167,"DFT":0.753,"SANNP":0.752},{"angle":168,"DFT":0.754,"SANNP":0.753},{"angle":169,"DFT":0.756,"SANNP":0.755},
      {"angle":170,"DFT":0.759,"SANNP":0.758},{"angle":171,"DFT":0.762,"SANNP":0.761},{"angle":172,"DFT":0.765,"SANNP":0.764},{"angle":173,"DFT":0.767,"SANNP":0.766},{"angle":174,"DFT":0.769,"SANNP":0.770},
      {"angle":175,"DFT":0.772,"SANNP":0.778},{"angle":176,"DFT":0.785,"SANNP":0.795},{"angle":177,"DFT":0.795,"SANNP":0.782},{"angle":178,"DFT":0.792,"SANNP":0.775},{"angle":179,"DFT":0.775,"SANNP":0.772},
      {"angle":180,"DFT":0.757,"SANNP":0.790}
    ]
  }
}
